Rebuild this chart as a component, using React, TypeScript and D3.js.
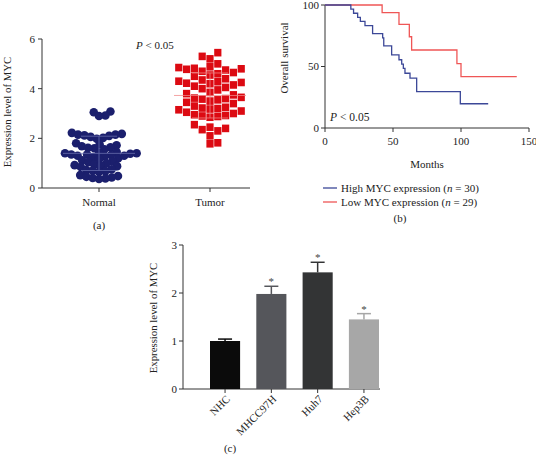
import React from 'react';
import * as d3 from 'd3';

// ---------- Panel (a) data ----------
const groups = ['Normal', 'Tumor'];
const normalValues = [
  3.08, 3.05, 2.92, 2.9,
  2.22, 2.18, 2.15, 2.12, 2.1, 2.06, 2.02, 1.98, 2.15,
  1.8, 1.75, 1.72, 1.68, 1.64, 1.6, 1.56, 1.62,
  1.45, 1.42, 1.4, 1.38, 1.35, 1.33, 1.3, 1.28, 1.35, 1.4, 1.25, 1.2, 1.16, 1.3,
  1.12, 1.08, 1.04, 1.0, 0.95, 0.92, 0.9, 0.88, 0.85,
  0.75, 0.72, 0.7, 0.68, 0.65,
  0.52, 0.48, 0.45, 0.42, 0.4, 0.38, 0.36,
];
const tumorValues = [
  5.45, 5.3, 5.2, 5.0,
  4.88, 4.85, 4.82, 4.8, 4.78, 4.75, 4.7, 4.65, 4.6, 4.55, 4.5,
  4.4, 4.35, 4.3, 4.28, 4.25, 4.22, 4.2, 4.15, 4.1, 4.05, 4.0, 3.95,
  3.85, 3.8, 3.75, 3.65, 3.62, 3.6, 3.58, 3.55, 3.5, 3.45, 3.4,
  3.3, 3.25, 3.22, 3.2, 3.18, 3.15, 3.1, 3.05, 3.0, 2.95, 2.92, 2.9, 2.88, 2.85,
  2.55, 2.45, 2.4, 2.35, 2.3, 2.1, 1.82, 1.78,
];
const yTicksA = [0, 2, 4, 6];

// ---------- Panel (b) data ----------
const highTimes = [0, 19, 21, 24, 26, 29.4, 35, 42.4, 43.2, 49, 54.4, 56.4, 57.6, 58.8, 62.5, 67.4, 99.5, 120];
const highSurv = [100, 96.7, 93.3, 90, 86.7, 83.3, 76.7, 73.3, 66.7, 59.5, 55.5, 52, 48.5, 44.5, 40.5, 29.5, 19.7, 19.7];
const lowTimes = [0, 42, 54.4, 62, 63.7, 97, 100, 141];
const lowSurv = [100, 93.8, 84.3, 74.2, 63.4, 52.4, 41.7, 41.7];
const xTicksB = [0, 50, 100, 150];
const yTicksB = [0, 50, 100];
const legendLabels = ['High MYC expression (', 'Low MYC expression ('];
const legendN = [30, 29];

// ---------- Panel (c) data ----------
const cellLines = ['NHC', 'MHCC97H', 'Huh7', 'Hep3B'];
const cellMeans = [1.0, 1.98, 2.43, 1.45];
const cellErrs = [0.04, 0.16, 0.21, 0.12];
const cellSig = [false, true, true, true];
const yTicksC = [0, 1, 2, 3];
const barColors = ['#0b0b0b', '#55565b', '#333435', '#a7a7a7'];

const FONT = '"Liberation Serif", "DejaVu Serif", serif';
const AX = '#333';

type Pt = { v: number; y: number; x: number };

function swarm(values: number[], yScale: (v: number) => number, size: number, shape: 'circle' | 'square'): Pt[] {
  const items: Pt[] = values.map((v) => ({ v, y: yScale(v), x: 0 }));
  const order = [...items].sort((a, b) => b.y - a.y);
  const placed: Pt[] = [];
  const ok = (c: number, p: Pt) =>
    placed.every((q) => {
      const dy = Math.abs(q.y - p.y);
      const dx = Math.abs(q.x - c);
      return shape === 'circle' ? dx * dx + dy * dy >= size * size - 0.1 : dx >= size - 0.05 || dy >= size - 0.05;
    });
  for (const p of order) {
    const cands = [0];
    for (const q of placed) {
      const dy = Math.abs(q.y - p.y);
      if (dy < size) {
        const dx = shape === 'circle' ? Math.sqrt(size * size - dy * dy) : size;
        cands.push(q.x + dx + 0.01, q.x - dx - 0.01);
      }
    }
    cands.sort((a, b) => Math.abs(a) - Math.abs(b));
    for (const c of cands) {
      if (ok(c, p)) {
        p.x = c;
        break;
      }
    }
    placed.push(p);
  }
  return items;
}

function PanelA() {
  const y = d3.scaleLinear().domain([0, 6]).range([188, 39]);
  const x = d3.scalePoint().domain(groups).range([99, 210]);
  const nPts = swarm(normalValues, y, 6.4, 'circle');
  const tPts = swarm(tumorValues, y, 7.8, 'square');
  const stats = [normalValues, tumorValues].map((vals) => ({
    m: d3.mean(vals) as number,
    s: d3.deviation(vals) as number,
  }));
  const lineCols = ['#6b72b0', '#f08a8a'];
  return (
    <g>
      <line x1={42} x2={42} y1={y(6)} y2={y(0)} stroke={AX} />
      <line x1={42} x2={250} y1={y(0)} y2={y(0)} stroke={AX} />
      {yTicksA.map((t) => (
        <g key={t}>
          <line x1={38} x2={42} y1={y(t)} y2={y(t)} stroke={AX} />
          <text x={35} y={y(t)} dy="0.35em" textAnchor="end" fontSize={11} fill="#222">{t}</text>
        </g>
      ))}
      {groups.map((g) => (
        <g key={g}>
          <line x1={x(g)} x2={x(g)} y1={y(0)} y2={y(0) + 4} stroke={AX} />
          <text x={x(g)} y={206} textAnchor="middle" fontSize={11} fill="#222">{g}</text>
        </g>
      ))}
      {nPts.map((p, i) => (
        <circle key={'n' + i} cx={(x('Normal') as number) + p.x} cy={p.y} r={4.3} fill="#1b1f6d" />
      ))}
      {tPts.map((p, i) => (
        <rect key={'t' + i} x={(x('Tumor') as number) + p.x - 3.6} y={p.y - 3.8} width={7.2} height={7.6} fill="#dc0a12" />
      ))}
      {stats.map((s, i) => {
        const cx = x(groups[i]) as number;
        return (
          <g key={'st' + i} stroke={lineCols[i]} strokeWidth={0.9} opacity={0.85}>
            <line x1={cx - 36} x2={cx + 36} y1={y(s.m)} y2={y(s.m)} />
            <line x1={cx} x2={cx} y1={y(s.m + s.s)} y2={y(s.m - s.s)} />
            <line x1={cx - 18} x2={cx + 18} y1={y(s.m + s.s)} y2={y(s.m + s.s)} />
            <line x1={cx - 18} x2={cx + 18} y1={y(s.m - s.s)} y2={y(s.m - s.s)} />
          </g>
        );
      })}
      <text x={136} y={49} fontSize={11} fill="#222">
        <tspan fontStyle="italic">P</tspan> &lt; 0.05
      </text>
      <text transform="translate(11,112) rotate(-90)" textAnchor="middle" fontSize={10.8} fill="#222">
        Expression level of MYC
      </text>
      <text x={99} y={229} textAnchor="middle" fontSize={11} fill="#222">(a)</text>
    </g>
  );
}

function PanelB() {
  const x = d3.scaleLinear().domain([0, 150]).range([325, 529]);
  const y = d3.scaleLinear().domain([0, 100]).range([128, 5]);
  const line = d3
    .line<[number, number]>()
    .x((d) => x(d[0]))
    .y((d) => y(d[1]))
    .curve(d3.curveStepAfter);
  const high = highTimes.map((t, i) => [t, highSurv[i]] as [number, number]);
  const low = lowTimes.map((t, i) => [t, lowSurv[i]] as [number, number]);
  const cols = ['#3c4898', '#ef5656'];
  return (
    <g>
      <line x1={x(0)} x2={x(0)} y1={y(100)} y2={y(0)} stroke={AX} />
      <line x1={x(0)} x2={x(150)} y1={y(0)} y2={y(0)} stroke={AX} />
      {yTicksB.map((t) => (
        <g key={t}>
          <line x1={x(0) - 4} x2={x(0)} y1={y(t)} y2={y(t)} stroke={AX} />
          <text x={x(0) - 6} y={y(t)} dy="0.35em" textAnchor="end" fontSize={11} fill="#222">{t}</text>
        </g>
      ))}
      {xTicksB.map((t) => (
        <g key={t}>
          <line x1={x(t)} x2={x(t)} y1={y(0)} y2={y(0) + 4} stroke={AX} />
          <text x={x(t)} y={145} textAnchor="middle" fontSize={11} fill="#222">{t}</text>
        </g>
      ))}
      <path d={line(low) as string} fill="none" stroke={cols[1]} strokeWidth={1.3} />
      <path d={line(high) as string} fill="none" stroke={cols[0]} strokeWidth={1.3} />
      <text x={330} y={121} fontSize={11.5} fill="#222">
        <tspan fontStyle="italic">P</tspan> &lt; 0.05
      </text>
      <text transform="translate(288,58) rotate(-90)" textAnchor="middle" fontSize={11} fill="#222">
        Overall survival
      </text>
      <text x={427} y={168} textAnchor="middle" fontSize={11} fill="#222">Months</text>
      {legendLabels.map((l, i) => (
        <g key={l}>
          <line x1={323} x2={337} y1={188 + i * 14} y2={188 + i * 14} stroke={cols[i]} strokeWidth={1.3} />
          <text x={341} y={192 + i * 14} fontSize={11} fill="#222">
            {l}
            <tspan fontStyle="italic">n</tspan> = {legendN[i]})
          </text>
        </g>
      ))}
      <text x={400} y={222} textAnchor="middle" fontSize={11} fill="#222">(b)</text>
    </g>
  );
}

function PanelC() {
  const y = d3.scaleLinear().domain([0, 3]).range([389, 245]);
  const x = d3.scaleBand().domain(cellLines).range([210, 379]).paddingInner(0.35).paddingOuter(0);
  const bw = x.bandwidth();
  return (
    <g>
      <line x1={183} x2={183} y1={y(3)} y2={y(0)} stroke={AX} />
      <line x1={183} x2={380} y1={y(0)} y2={y(0)} stroke={AX} />
      {yTicksC.map((t) => (
        <g key={t}>
          <line x1={179} x2={183} y1={y(t)} y2={y(t)} stroke={AX} />
          <text x={177} y={y(t)} dy="0.35em" textAnchor="end" fontSize={11} fill="#222">{t}</text>
        </g>
      ))}
      {cellLines.map((c, i) => {
        const x0 = x(c) as number;
        const cx = x0 + bw / 2;
        const top = y(cellMeans[i] + cellErrs[i]);
        return (
          <g key={c}>
            <rect x={x0} y={y(cellMeans[i])} width={bw} height={y(0) - y(cellMeans[i])} fill={barColors[i]} />
            <line x1={cx} x2={cx} y1={y(cellMeans[i])} y2={top} stroke={barColors[i]} strokeWidth={1.5} />
            <line x1={cx - 7} x2={cx + 7} y1={top} y2={top} stroke={barColors[i]} strokeWidth={1.5} />
            {cellSig[i] && (
              <text x={cx} y={top - 1} textAnchor="middle" fontSize={11} fill="#444">*</text>
            )}
            <line x1={cx} x2={cx} y1={y(0)} y2={y(0) + 4} stroke={AX} />
            <text transform={`translate(${cx + 3},${y(0) + 8}) rotate(-45)`} dy="0.35em" textAnchor="end" fontSize={11} fill="#222">
              {c}
            </text>
          </g>
        );
      })}
      <text transform="translate(157,318) rotate(-90)" textAnchor="middle" fontSize={10.8} fill="#222">
        Expression level of MYC
      </text>
      <text x={230} y={452} textAnchor="middle" fontSize={11} fill="#222">(c)</text>
    </g>
  );
}

export default function App() {
  return (
    <svg
      width={536}
      height={463}
      viewBox="0 0 536 463"
      style={{ position: 'absolute', left: 0, top: 0, background: '#fff' }}
      fontFamily={FONT}
    >
      <rect width={536} height={463} fill="#fff" />
      <PanelA />
      <PanelB />
      <PanelC />
    </svg>
  );
}
